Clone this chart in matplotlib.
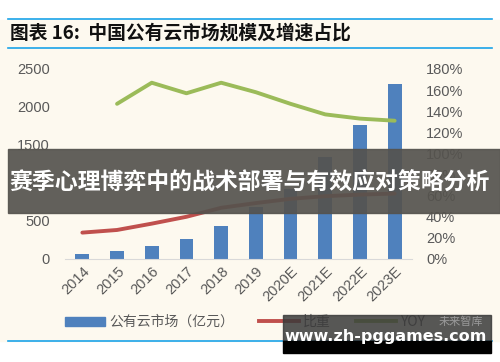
import numpy as np
import matplotlib.pyplot as plt
from matplotlib.patches import Rectangle
from matplotlib.lines import Line2D
from matplotlib.ticker import FuncFormatter

plt.rcParams['font.family'] = ['Liberation Sans', 'Noto Sans CJK SC', 'DejaVu Sans']

years = ['2014', '2015', '2016', '2017', '2018', '2019', '2020E', '2021E', '2022E', '2023E']
market = [72, 102, 170, 264, 437, 689, 925, 1340, 1763, 2307]
share = [0.25, 0.275, 0.335, 0.40, 0.485, 0.53, 0.57, 0.595, 0.61, 0.62]
yoy_years = years[1:]
yoy = [1.47, 1.67, 1.57, 1.67, 1.58, 1.47, 1.37, 1.33, 1.31]

W, H = 500, 362
fig = plt.figure(figsize=(W / 100, H / 100), dpi=100)
fig.patch.set_facecolor('white')

def fx(px):
    return px / W

def fy(py):
    return 1 - py / H

# cream panel and blue rules
fig.patches.append(Rectangle((0, fy(341)), 1, fy(20) - fy(341), transform=fig.transFigure,
                             color='#fdf9ef', zorder=-5))
for yy in [19, 48, 341]:
    fig.add_artist(Line2D([fx(8), fx(492)], [fy(yy), fy(yy)], transform=fig.transFigure,
                          color='#1aa3e8', lw=1.2))

fig.text(fx(10), fy(33), '图表 16:  中国公有云市场规模及增速占比', fontsize=13.5,
         fontweight='bold', family=['Noto Sans CJK SC'], va='center', ha='left', color='#111111')

ax = fig.add_axes([fx(65), fy(259), fx(347), fy(69) - fy(259)])
ax.set_facecolor('none')
x = np.arange(len(years))
ax.bar(x, market, width=0.4, color='#4f81bd', zorder=2)
ax.set_xlim(-0.5, len(years) - 0.5)
ax.set_ylim(0, 2500)
ax.set_yticks(range(0, 2501, 500))
ax.set_xticks(x)
ax.set_xticklabels(years, rotation=45, ha='right', rotation_mode='anchor')
for s in ['top', 'right', 'left']:
    ax.spines[s].set_visible(False)
ax.spines['bottom'].set_color('#d9d9d9')
ax.tick_params(axis='both', length=0, labelsize=10.5, colors='#595959')
ax.tick_params(axis='y', pad=11)
ax.tick_params(axis='x', pad=4)

ax2 = ax.twinx()
ax2.plot(x, share, color='#c0504d', lw=2.8, solid_capstyle='round', zorder=3)
ax2.plot(x[1:], yoy, color='#9bbb59', lw=2.8, solid_capstyle='round', zorder=3)
ax2.set_ylim(0, 1.8)
ax2.set_yticks(np.arange(0, 1.81, 0.2))
ax2.yaxis.set_major_formatter(FuncFormatter(lambda v, p: f'{v * 100:.0f}%'))
for s in ['top', 'right', 'left', 'bottom']:
    ax2.spines[s].set_visible(False)
ax2.tick_params(axis='y', length=0, labelsize=10.5, colors='#595959', pad=10)

# legend
handles = [Rectangle((0, 0), 1, 1, color='#4f81bd'),
           Line2D([], [], color='#c0504d', lw=2.8),
           Line2D([], [], color='#9bbb59', lw=2.8)]
fig.legend(handles, ['公有云市场（亿元）', '比重', 'YOY'], loc='center', ncol=3,
           bbox_to_anchor=(fx(245), fy(322)), frameon=False, handlelength=2.9,
           handleheight=0.6, columnspacing=1.8, handletextpad=0.3,
           prop={'family': ['Noto Sans CJK SC'], 'size': 10}, labelcolor='#595959')

# overlay banner
fig.patches.append(Rectangle((fx(8), fy(213)), fx(492), fy(149) - fy(213), transform=fig.transFigure,
                             color='#55534e', alpha=0.92, zorder=10))
fig.text(fx(250), fy(183), '赛季心理博弈中的战术部署与有效应对策略分析', fontsize=16.5,
         fontweight='bold', family=['Noto Sans CJK SC'], color='white', ha='center',
         va='center', zorder=11)

# watermark box
fig.patches.append(Rectangle((fx(283), fy(341)), fx(208), fy(315) - fy(341), transform=fig.transFigure,
                             color='#3a3a3a', alpha=0.85, zorder=10))
fig.patches.append(Rectangle((fx(283), fy(353)), fx(208), fy(341) - fy(353), transform=fig.transFigure,
                             color='black', zorder=10))
fig.text(fx(483), fy(322), '未来智库', fontsize=8, family=['Noto Sans CJK SC'], color='#9a9a9a',
         ha='right', va='center', zorder=11)
fig.text(fx(386), fy(336), 'www.zh-pggames.com', fontsize=11.5, fontweight='bold',
         family=['DejaVu Sans'], color='white', ha='center', va='center', zorder=11)

fig.savefig('out.png', dpi=100)
